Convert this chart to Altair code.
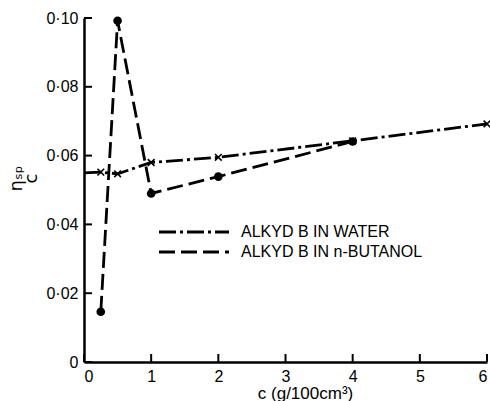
import altair as alt
import pandas as pd

# ---- data ----
water_c = [0, 0.25, 0.5, 1, 2, 4, 6]
water_v = [0.0550, 0.0552, 0.0547, 0.0580, 0.0595, 0.0643, 0.0692]
butanol_c = [0.25, 0.5, 1, 2, 4]
butanol_v = [0.0146, 0.0992, 0.0490, 0.0539, 0.0641]
series_names = ["ALKYD B IN WATER", "ALKYD B IN n-BUTANOL"]
dash_styles = [[17, 4, 3, 4], [16, 6]]
x_ticks = [0, 1, 2, 3, 4, 5, 6]
y_ticks = [0, 0.02, 0.04, 0.06, 0.08, 0.10]

W, H = 403, 344
FONT = "Liberation Sans"

lines_df = pd.DataFrame({
    "c": water_c + butanol_c,
    "v": water_v + butanol_v,
    "series": [series_names[0]] * len(water_c) + [series_names[1]] * len(butanol_c),
})
water_pts = pd.DataFrame({"c": water_c[1:], "v": water_v[1:]})
butanol_pts = pd.DataFrame({"c": butanol_c, "v": butanol_v})
yt_df = pd.DataFrame({"v": y_ticks})
xt_df = pd.DataFrame({"c": x_ticks})

xs = alt.Scale(domain=[0, 6], nice=False, zero=False)
ys = alt.Scale(domain=[0, 0.10], nice=False)

x_axis = alt.Axis(values=x_ticks, ticks=False, format="d", labelPadding=6,
                  title="c (g/100cm³)", titleX=221, titlePadding=1,
                  labelFont=FONT, labelFontSize=16, labelColor="black",
                  titleFont=FONT, titleFontSize=17, titleColor="black", titleFontWeight="normal",
                  domainColor="black", domainWidth=2.5, grid=False)
y_axis = alt.Axis(values=y_ticks, ticks=False, labelPadding=6,
                  labelExpr="datum.value == 0 ? '0' : replace(format(datum.value, '.2f'), '.', '·')",
                  labelFont=FONT, labelFontSize=16, labelColor="black",
                  title=["ηₛₚ", "c"], titleX=-59, titleY=160, titleFont="DejaVu Sans",
                  titleFontSize=18, titleFontWeight="normal", titleColor="black",
                  titleAngle=270, titleLineHeight=15,
                  domainColor="black", domainWidth=2.5, grid=False)


def X():
    return alt.X("c:Q", scale=xs, axis=x_axis, title="c (g/100cm³)")


def Y():
    return alt.Y("v:Q", scale=ys, axis=y_axis, title=["ηₛₚ", "c"])


lines = alt.Chart(lines_df).mark_line(strokeWidth=2.8, color="black", strokeCap="butt").encode(
    x=X(), y=Y(),
    strokeDash=alt.StrokeDash("series:N", scale=alt.Scale(domain=series_names, range=dash_styles),
        legend=alt.Legend(orient="none", legendX=102, legendY=206, title=None,
                          symbolType="M-10,0L10,0", symbolSize=49, symbolStrokeWidth=2.8,
                          symbolStrokeColor="black", labelFont=FONT, labelFontSize=16,
                          labelColor="black", labelOffset=39, rowPadding=4, labelLimit=400)),
)

water_marks = alt.Chart(water_pts).mark_point(
    shape="M-1,-1L1,1M1,-1L-1,1", filled=False, color="black", strokeWidth=1.6, size=45, opacity=1
).encode(x=X(), y=Y())

butanol_marks = alt.Chart(butanol_pts).mark_circle(color="black", size=75, opacity=1).encode(
    x=X(), y=Y())

y_tick_marks = alt.Chart(yt_df).mark_rule(color="black", strokeWidth=2).encode(
    y=Y(), x=alt.value(0), x2=alt.value(8))

x_tick_marks = alt.Chart(xt_df).mark_rule(color="black", strokeWidth=2).encode(
    x=X(), y=alt.value(H), y2=alt.value(H - 8))

chart = alt.layer(lines, water_marks, butanol_marks, y_tick_marks, x_tick_marks).properties(
    width=W, height=H, autosize="none", background="white",
    padding={"left": 84, "top": 18, "right": 3, "bottom": 39},
).configure_view(stroke=None).configure_axis(
    grid=False, domainColor="black", domainWidth=2.5,
    labelFont=FONT, labelFontSize=16, labelColor="black",
    titleFont=FONT, titleFontSize=16, titleColor="black", titleFontWeight="normal",
)

chart.save("out.html", embed_options={"renderer": "svg", "actions": False})
